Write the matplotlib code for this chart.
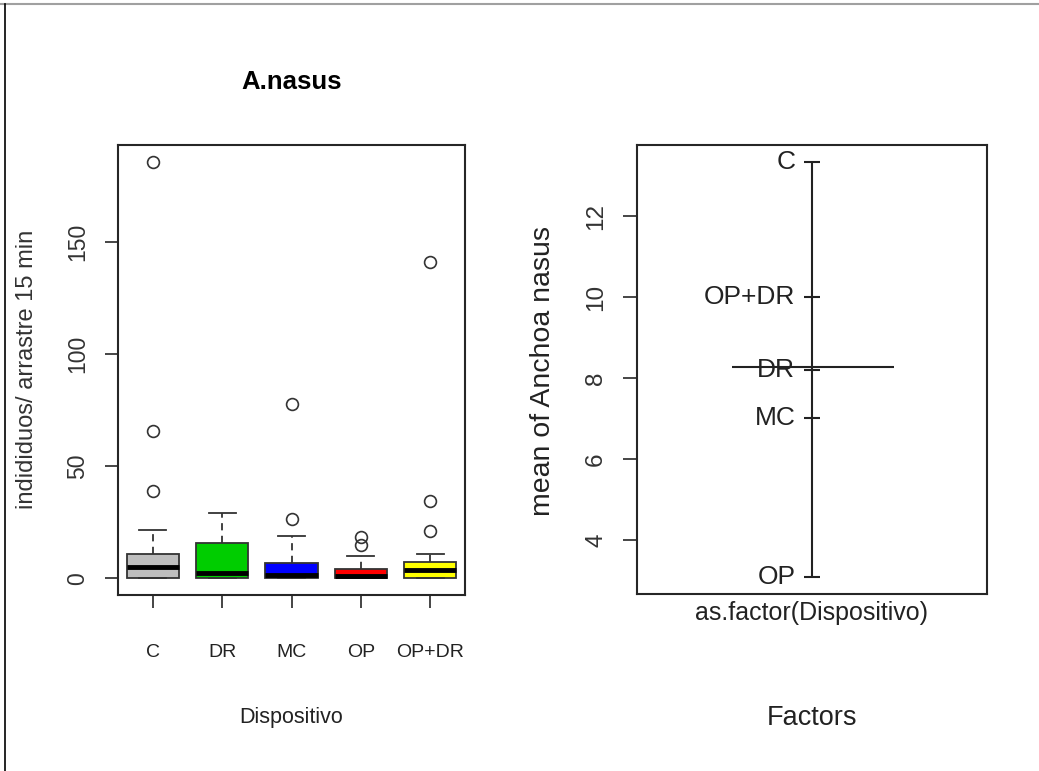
import matplotlib
matplotlib.use("Agg")
import matplotlib.pyplot as plt
from matplotlib.lines import Line2D

# boxplot values (individuos / arrastre 15 min)
devices = ["C", "DR", "MC", "OP", "OP+DR"]
box_colors = ["#bebebe", "#00cd00", "#0000ff", "#ff0000", "#ffff00"]
q1 = [0, 0, 0, 0, 0]
medians = [5.2, 2.2, 1.5, 1.0, 3.6]
q3 = [10.8, 16, 7, 4, 7.2]
whis_lo = [0, 0, 0, 0, 0]
whis_hi = [21.5, 29, 19, 10, 11]
outliers = [[39, 66, 186], [], [26.5, 78], [15, 18.5], [21, 34.5, 141]]

# plot.design values (mean of Anchoa nasus by factor level)
design_levels = ["C", "OP+DR", "DR", "MC", "OP"]
design_means = [13.35, 10.0, 8.2, 7.0, 3.07]
grand_mean = 8.27

font = ["Liberation Sans", "DejaVu Sans"]
frame_col = "#262626"
text_col = "#222222"

fig = plt.figure(figsize=(10.39, 7.71), dpi=100)

# ---------------- left: boxplot ----------------
ax1 = fig.add_axes([118/1039, 1-595/771, 347/1039, 450/771])
stats = []
for i in range(len(devices)):
    stats.append(dict(q1=q1[i], med=medians[i], q3=q3[i],
                      whislo=whis_lo[i], whishi=whis_hi[i], fliers=outliers[i]))
bp = ax1.bxp(stats, positions=range(1, 6), widths=0.75, capwidths=0.39,
             patch_artist=True, showfliers=True,
             boxprops=dict(edgecolor="#333333", linewidth=1.3),
             medianprops=dict(color="black", linewidth=3.5, solid_capstyle="butt"),
             whiskerprops=dict(color="#333333", linewidth=1.3, linestyle=(0, (4, 3))),
             capprops=dict(color="#333333", linewidth=1.3),
             flierprops=dict(marker="o", markerfacecolor="none", markeredgecolor="#333333",
                             markersize=8.5, markeredgewidth=1.2))
for patch, c in zip(bp["boxes"], box_colors):
    patch.set_facecolor(c)

ax1.set_xlim(0.5, 5.5)
ax1.set_ylim(-7.4, 193.4)
ax1.set_yticks([0, 50, 100, 150])
ax1.set_xticks(range(1, 6))
ax1.set_xticklabels(devices, family=font, fontsize=14, color=text_col)
for lab in ax1.get_yticklabels():
    lab.set_rotation(90)
    lab.set_va("center")
    lab.set_family(font)
    lab.set_fontsize(16.5)
    lab.set_color("#333333")
ax1.tick_params(axis="y", length=9.5, width=1.2, pad=11, color=frame_col)
ax1.tick_params(axis="x", length=9, width=1.2, pad=26, color=frame_col)
for s in ax1.spines.values():
    s.set_linewidth(1.5)
    s.set_color(frame_col)

ax1.set_title("A.nasus", family=font, fontweight="bold", fontsize=18.5,
              y=(595-90)/450, va="center")
ax1.set_ylabel("indididuos/ arrastre 15 min", family=font, fontsize=17,
               color="#333333", va="center")
ax1.yaxis.set_label_coords((27-118)/347, (595-369)/450)
ax1.set_xlabel("Dispositivo", family=font, fontsize=15.5, color=text_col, va="center")
ax1.xaxis.set_label_coords(0.5, (595-718)/450)

# ---------------- right: plot.design ----------------
ax2 = fig.add_axes([637/1039, 1-594/771, 350/1039, 449/771])
ax2.set_xlim(0.5, 1.5)
ax2.set_ylim(2.66, 13.76)
ax2.vlines(1, min(design_means), max(design_means), color=text_col, linewidth=1.5)
ax2.plot([1]*len(design_means), design_means, linestyle="none", marker="_",
         markersize=12, markeredgewidth=1.5, color=text_col)
ax2.hlines(grand_mean, 0.771, 1.234, color=text_col, linewidth=1.5)
for lev, m in zip(design_levels, design_means):
    ax2.annotate(lev, (1, m), xytext=(-12, 0), textcoords="offset points",
                 ha="right", va="center", family=font, fontsize=19, color=text_col)

ax2.set_yticks([4, 6, 8, 10, 12])
for lab in ax2.get_yticklabels():
    lab.set_rotation(90)
    lab.set_va("center")
    lab.set_family(font)
    lab.set_fontsize(17.5)
    lab.set_color("#333333")
ax2.tick_params(axis="y", length=10, width=1.2, pad=11.5, color=frame_col)
ax2.set_xticks([1])
ax2.set_xticklabels(["as.factor(Dispositivo)"], family=font, fontsize=18, color=text_col)
ax2.tick_params(axis="x", length=0, pad=5)
for s in ax2.spines.values():
    s.set_linewidth(1.5)
    s.set_color(frame_col)

ax2.set_ylabel("mean of Anchoa nasus", family=font, fontsize=20.5, color=text_col, va="center")
ax2.yaxis.set_label_coords((543-637)/350, (594-371)/449)
ax2.set_xlabel("Factors", family=font, fontsize=19.5, color=text_col, va="center")
ax2.xaxis.set_label_coords(0.5, (594-718)/449)

# page border lines from the screenshot
fig.add_artist(Line2D([0, 1], [1-4/771, 1-4/771], color="#a0a0a0", linewidth=1.5))
fig.add_artist(Line2D([5/1039, 5/1039], [0, 1-4/771], color="black", linewidth=1.2))

fig.savefig("out.png", dpi=100)
